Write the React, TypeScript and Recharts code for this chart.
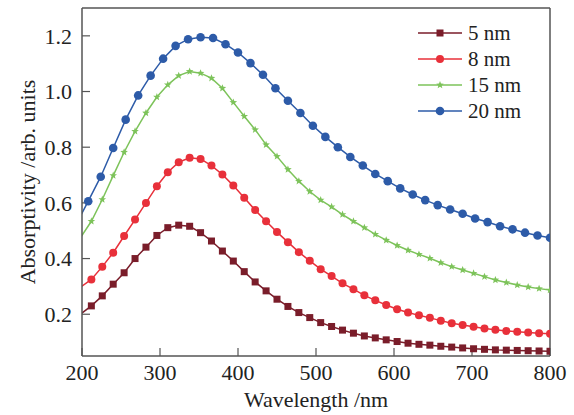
import React from "react";
import { Line, LineChart, ReferenceLine, XAxis, YAxis } from "recharts";

// Wavelength samples (nm). The 5/8/15 nm curves share a 14 nm grid, the 20 nm curve uses 16 nm.
const wave14 = [
	198, 212, 226, 240, 254, 268, 282, 296, 310, 324, 338, 352, 366, 380, 394, 408, 422, 436, 450, 464, 478, 492,
	506, 520, 534, 548, 562, 576, 590, 604, 618, 632, 646, 660, 674, 688, 702, 716, 730, 744, 758, 772, 786, 800,
];
const wave16 = [
	192, 208, 224, 240, 256, 272, 288, 304, 320, 336, 352, 368, 384, 400, 416, 432, 448, 464, 480, 496, 512, 528,
	544, 560, 576, 592, 608, 624, 640, 656, 672, 688, 704, 720, 736, 752, 768, 784, 800,
];

const abs5nm = [
	0.2, 0.23, 0.266, 0.308, 0.349, 0.4, 0.441, 0.483, 0.511, 0.52, 0.516, 0.493, 0.463, 0.427, 0.391, 0.353, 0.316,
	0.284, 0.254, 0.228, 0.206, 0.188, 0.17, 0.156, 0.143, 0.132, 0.122, 0.115, 0.108, 0.102, 0.096, 0.092, 0.089,
	0.085, 0.082, 0.079, 0.076, 0.074, 0.072, 0.071, 0.07, 0.069, 0.068, 0.067,
];
const abs8nm = [
	0.297, 0.325, 0.371, 0.421, 0.481, 0.54, 0.6, 0.66, 0.71, 0.746, 0.762, 0.758, 0.734, 0.702, 0.662, 0.618, 0.574,
	0.534, 0.495, 0.459, 0.423, 0.392, 0.362, 0.337, 0.311, 0.29, 0.268, 0.25, 0.233, 0.218, 0.206, 0.196, 0.187,
	0.177, 0.168, 0.161, 0.155, 0.149, 0.144, 0.14, 0.137, 0.134, 0.132, 0.13,
];
const abs15nm = [
	0.475, 0.534, 0.612, 0.698, 0.782, 0.857, 0.923, 0.98, 1.024, 1.057, 1.072, 1.066, 1.048, 1.012, 0.961, 0.911,
	0.863, 0.809, 0.767, 0.72, 0.678, 0.641, 0.61, 0.586, 0.558, 0.534, 0.511, 0.487, 0.466, 0.447, 0.43, 0.415,
	0.401, 0.385, 0.371, 0.359, 0.347, 0.335, 0.323, 0.314, 0.305, 0.298, 0.292, 0.287,
];
const abs20nm = [
	0.52, 0.606, 0.694, 0.797, 0.899, 0.986, 1.057, 1.118, 1.164, 1.188, 1.195, 1.192, 1.17, 1.14, 1.102, 1.06,
	1.012, 0.967, 0.923, 0.877, 0.837, 0.8, 0.765, 0.734, 0.704, 0.678, 0.652, 0.63, 0.61, 0.592, 0.576, 0.561,
	0.544, 0.531, 0.516, 0.505, 0.493, 0.483, 0.475,
];

const xTicks = [200, 300, 400, 500, 600, 700, 800];
const yTicks = [0.2, 0.4, 0.6, 0.8, 1.0, 1.2];

type Marker = "square" | "circle" | "star" | "bigCircle";

const series: { name: string; color: string; marker: Marker; xs: number[]; ys: number[] }[] = [
	{ name: "5 nm", color: "#7a1d2a", marker: "square", xs: wave14, ys: abs5nm },
	{ name: "8 nm", color: "#e8303a", marker: "circle", xs: wave14, ys: abs8nm },
	{ name: "15 nm", color: "#7dc35a", marker: "star", xs: wave14, ys: abs15nm },
	{ name: "20 nm", color: "#2d5ba8", marker: "bigCircle", xs: wave16, ys: abs20nm },
];

const FONT = '"Liberation Serif", "Times New Roman", serif';
const AXIS = "#555";
const INK = "#222";

function starPath(cx: number, cy: number, outer: number, inner: number) {
	let d = "";
	for (let i = 0; i < 10; i++) {
		const r = i % 2 === 0 ? outer : inner;
		const a = (Math.PI / 5) * i - Math.PI / 2;
		d += `${i === 0 ? "M" : "L"}${cx + r * Math.cos(a)},${cy + r * Math.sin(a)}`;
	}
	return d + "Z";
}

function MarkerShape({ kind, color, cx, cy }: { kind: Marker; color: string; cx: number; cy: number }) {
	if (kind === "square") return <rect x={cx - 3.5} y={cy - 3.5} width={7} height={7} fill={color} />;
	if (kind === "star") return <path d={starPath(cx, cy, 4, 1.7)} fill={color} />;
	return <circle cx={cx} cy={cy} r={kind === "bigCircle" ? 4.3 : 4} fill={color} />;
}

function makeDot(kind: Marker, color: string) {
	return (props: any) => {
		const { cx, cy, payload, index } = props;
		// points left of 200 nm only exist so the line runs to the axis
		if (payload.x < 200 || cx == null || cy == null) return <g key={`d-${index}`} />;
		return <MarkerShape key={`d-${index}`} kind={kind} color={color} cx={cx} cy={cy} />;
	};
}

function LegendBox() {
	return (
		<div style={{ position: "absolute", left: 418, top: 20, fontFamily: FONT, fontSize: 21, color: INK }}>
			{series.map((s) => (
				<div key={s.name} style={{ display: "flex", alignItems: "center", height: 26 }}>
					<svg width={46} height={26}>
						<line x1={0} y1={13} x2={44} y2={13} stroke={s.color} strokeWidth={1.5} />
						<MarkerShape kind={s.marker} color={s.color} cx={22} cy={13} />
					</svg>
					<span style={{ marginLeft: 4, lineHeight: "26px" }}>{s.name}</span>
				</div>
			))}
		</div>
	);
}

export default function App() {
	const tickStyle = { fontFamily: FONT, fontSize: 22, fill: INK };
	return (
		<div style={{ position: "absolute", left: 0, top: 0, background: "#fff", fontFamily: FONT }}>
			<LineChart
				width={574}
				height={415}
				margin={{ top: 8, right: 24, bottom: 0, left: 0 }}
				style={{ fontFamily: FONT }}
			>
				<XAxis
					dataKey="x"
					type="number"
					domain={[200, 800]}
					ticks={xTicks}
					allowDataOverflow
					height={59}
					tick={tickStyle}
					tickSize={-8}
					tickMargin={16}
					tickLine={{ stroke: AXIS, strokeWidth: 1.2 }}
					axisLine={{ stroke: AXIS, strokeWidth: 1.5 }}
					label={{
						content: ({ viewBox }: any) => (
							<text
								x={viewBox.x + viewBox.width / 2}
								y={viewBox.y + 43}
								textAnchor="middle"
								dominantBaseline="central"
								fontFamily={FONT}
								fontSize={22}
								fill={INK}
							>
								Wavelength /nm
							</text>
						),
					}}
				/>
				<YAxis
					type="number"
					domain={[0.05, 1.3]}
					ticks={yTicks}
					allowDataOverflow
					width={82}
					tick={tickStyle}
					tickFormatter={(v: number) => v.toFixed(1)}
					tickSize={-8}
					tickMargin={18}
					tickLine={{ stroke: AXIS, strokeWidth: 1.2 }}
					axisLine={{ stroke: AXIS, strokeWidth: 1.5 }}
					label={{
						content: ({ viewBox }: any) => {
							const cx = 27;
							const cy = viewBox.y + viewBox.height / 2;
							return (
								<text
									x={cx}
									y={cy}
									transform={`rotate(-90 ${cx} ${cy})`}
									textAnchor="middle"
									dominantBaseline="central"
									fontFamily={FONT}
									fontSize={22}
									fill={INK}
								>
									Absorptivity /arb. units
								</text>
							);
						},
					}}
				/>
				<ReferenceLine y={1.3} stroke={AXIS} strokeWidth={1.5} />
				<ReferenceLine x={800} stroke={AXIS} strokeWidth={1.5} />
				{series.map((s) => (
					<Line
						key={s.name}
						data={s.xs.map((x, i) => ({ x, y: s.ys[i] }))}
						dataKey="y"
						name={s.name}
						type="linear"
						stroke={s.color}
						strokeWidth={1.5}
						dot={makeDot(s.marker, s.color)}
						activeDot={false}
						isAnimationActive={false}
					/>
				))}
			</LineChart>
			<LegendBox />
		</div>
	);
}
